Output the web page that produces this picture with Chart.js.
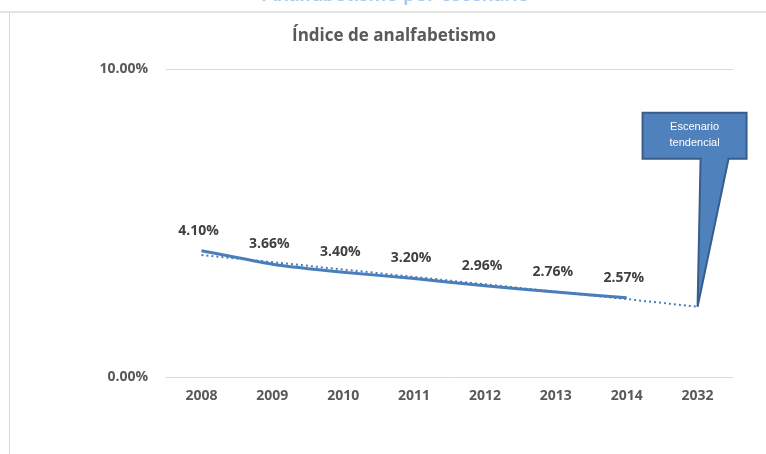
<!DOCTYPE html>
<html>
<head>
<meta charset="utf-8">
<script src="https://cdn.jsdelivr.net/npm/chart.js@4"></script>
<style>
  html, body { margin: 0; padding: 0; background: #fff; }
  #wrap { width: 766px; height: 454px; position: relative; }
</style>
</head>
<body>
<div id="wrap"><canvas id="analfabetismo" width="766" height="454"></canvas></div>
<script>
// años y valores del índice
const years = ['2008', '2009', '2010', '2011', '2012', '2013', '2014', '2032'];
const indice = [4.10, 3.66, 3.40, 3.20, 2.96, 2.76, 2.57, null];
const tendencia = [3.96, 3.73, 3.49, 3.25, 3.01, 2.77, 2.53, 2.28];
const yTicks = [0, 10];

const azul = '#4a7ebb';
const gris = '#595959';

// marco, titulos, etiquetas y llamada "Escenario tendencial"
const extras = {
  id: 'extras',
  beforeDraw(chart) {
    const ctx = chart.ctx;
    ctx.save();
    ctx.strokeStyle = '#e3e3e3';
    ctx.lineWidth = 2;
    ctx.beginPath();
    ctx.moveTo(0, 12); ctx.lineTo(766, 12);
    ctx.stroke();
    ctx.strokeStyle = '#d9d9d9';
    ctx.lineWidth = 1;
    ctx.beginPath();
    ctx.moveTo(9.5, 12); ctx.lineTo(9.5, 454);
    ctx.stroke();
    // titulo superior, cortado por el borde
    ctx.fillStyle = '#a9cbec';
    ctx.font = 'bold 21px Lato, sans-serif';
    ctx.textAlign = 'center';
    ctx.textBaseline = 'alphabetic';
    ctx.fillText('Analfabetismo por escenario', 396, 0.5);
    // titulo del grafico
    ctx.fillStyle = gris;
    ctx.font = 'bold 17px "Open Sans", sans-serif';
    ctx.textBaseline = 'middle';
    ctx.fillText('Índice de analfabetismo', 394, 36);
    ctx.restore();
  },
  afterDatasetsDraw(chart) {
    const ctx = chart.ctx;
    const meta = chart.getDatasetMeta(0);
    ctx.save();
    ctx.fillStyle = '#404040';
    ctx.font = 'bold 14px "Open Sans", sans-serif';
    ctx.textAlign = 'center';
    ctx.textBaseline = 'middle';
    meta.data.forEach((pt, i) => {
      if (indice[i] == null) return;
      ctx.fillText(indice[i].toFixed(2) + '%', pt.x - 3, pt.y - 20);
    });

    const tip = chart.getDatasetMeta(1).data[years.length - 1];
    const tx = tip.x, ty = tip.y;
    const left = tx - 55, right = tx + 49, top = ty - 194, bottom = ty - 148;
    ctx.beginPath();
    ctx.moveTo(left, top);
    ctx.lineTo(right, top);
    ctx.lineTo(right, bottom);
    ctx.lineTo(tx + 31, bottom);
    ctx.lineTo(tx, ty);
    ctx.lineTo(tx + 3, bottom);
    ctx.lineTo(left, bottom);
    ctx.closePath();
    ctx.fillStyle = '#4f81bd';
    ctx.fill();
    ctx.strokeStyle = '#385d8a';
    ctx.lineWidth = 2;
    ctx.lineJoin = 'miter';
    ctx.stroke();
    ctx.fillStyle = '#ffffff';
    ctx.font = '11px "Liberation Sans", Arial, sans-serif';
    ctx.fillText('Escenario', (left + right) / 2, top + 14);
    ctx.fillText('tendencial', (left + right) / 2, top + 30);
    ctx.restore();
  }
};

new Chart(document.getElementById('analfabetismo'), {
  type: 'line',
  data: {
    labels: years,
    datasets: [
      {
        label: 'Índice de analfabetismo',
        data: indice,
        borderColor: azul,
        backgroundColor: azul,
        borderWidth: 3,
        pointRadius: 0,
        tension: 0.1,
        spanGaps: false
      },
      {
        label: 'Tendencia',
        data: tendencia,
        borderColor: azul,
        borderWidth: 2,
        borderDash: [2, 3],
        pointRadius: 0,
        tension: 0
      }
    ]
  },
  options: {
    responsive: false,
    animation: false,
    devicePixelRatio: 1,
    layout: { padding: { left: 10, right: 33, top: 69, bottom: 0 } },
    plugins: {
      legend: { display: false },
      tooltip: { enabled: false },
      title: { display: false }
    },
    scales: {
      x: {
        offset: true,
        grid: { display: false, drawTicks: false },
        border: { display: false },
        ticks: {
          color: gris,
          font: { family: '"Open Sans", sans-serif', size: 14, weight: 'bold' },
          padding: 11,
          maxRotation: 0
        },
        afterFit(scale) { scale.height = 77; }
      },
      y: {
        min: 0,
        max: 10,
        afterBuildTicks(scale) { scale.ticks = yTicks.map(v => ({ value: v })); },
        grid: { color: '#d9d9d9', drawTicks: false, lineWidth: 1 },
        border: { display: false },
        ticks: {
          color: gris,
          font: { family: '"Open Sans", sans-serif', size: 14, weight: 'bold' },
          padding: 18,
          callback: v => v.toFixed(2) + '%'
        },
        afterFit(scale) { scale.width = 156; }
      }
    }
  },
  plugins: [extras]
});
</script>
</body>
</html>
